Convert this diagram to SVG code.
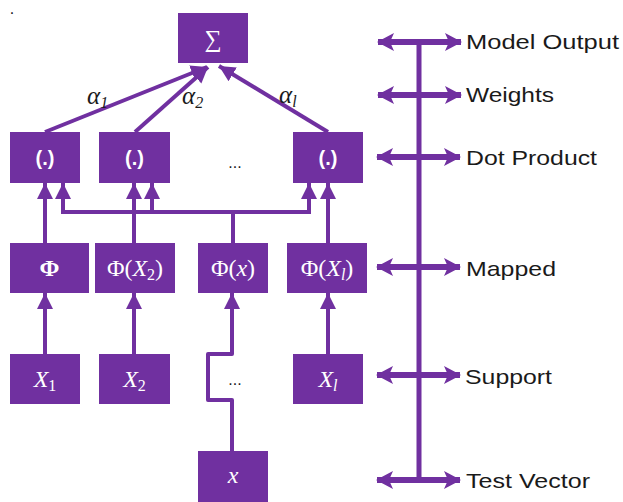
<svg xmlns="http://www.w3.org/2000/svg" width="623" height="502" viewBox="0 0 623 502">
<defs>
<style>
.box{fill:#7030A0;}
.bt{fill:#fff;font-family:"Liberation Serif","DejaVu Serif",serif;font-size:24px;text-anchor:middle;}
.bs{fill:#fff;font-family:"Liberation Sans",sans-serif;font-size:20px;font-weight:bold;text-anchor:middle;}
.it{font-style:italic;}
.ln{stroke:#7030A0;stroke-width:4;fill:none;}
.lb{fill:#1a1a1a;font-family:"Liberation Sans","DejaVu Sans",sans-serif;font-size:21px;}
.al{fill:#1a1a1a;font-family:"Liberation Serif","DejaVu Serif",serif;font-size:25px;font-style:italic;}
.dots{fill:#1a1a1a;font-family:"Liberation Sans",sans-serif;font-size:16px;text-anchor:middle;}
</style>
<marker id="ah" markerUnits="userSpaceOnUse" markerWidth="18" markerHeight="18" refX="16" refY="9" orient="auto-start-reverse" viewBox="0 0 18 18">
<path d="M0,1 L16,9 L0,17 Z" fill="#7030A0"/>
</marker>
<marker id="dh" markerUnits="userSpaceOnUse" markerWidth="18" markerHeight="20" refX="16" refY="10" orient="auto-start-reverse" viewBox="0 0 18 20">
<path d="M0,1 L17,10 L0,19 L4,10 Z" fill="#7030A0"/>
</marker>
</defs>
<rect width="623" height="502" fill="#fff"/>
<text x="12" y="14" class="dots" font-size="10">.</text>

<g id="connectors">
<line class="ln" x1="45" y1="132" x2="207" y2="67" marker-end="url(#ah)"/>
<line class="ln" x1="135" y1="132" x2="208" y2="67" marker-end="url(#ah)"/>
<line class="ln" x1="328" y1="132" x2="219" y2="66" marker-end="url(#ah)"/>
<line class="ln" x1="45" y1="354" x2="45" y2="293" marker-end="url(#ah)"/>
<line class="ln" x1="134" y1="354" x2="134" y2="293" marker-end="url(#ah)"/>
<line class="ln" x1="328" y1="354" x2="328" y2="293" marker-end="url(#ah)"/>
<path class="ln" d="M232,451 V400 H208 V354 H232 V293" marker-end="url(#ah)" stroke-linejoin="round"/>
<line class="ln" x1="45" y1="243" x2="45" y2="183" marker-end="url(#ah)"/>
<line class="ln" x1="134" y1="243" x2="134" y2="183" marker-end="url(#ah)"/>
<line class="ln" x1="328" y1="243" x2="328" y2="183" marker-end="url(#ah)"/>
<path class="ln" d="M233,243 V212"/>
<path class="ln" d="M63,183 V212 H309 V183" marker-start="url(#ah)" marker-end="url(#ah)"/>
<line class="ln" x1="152" y1="212" x2="152" y2="183" marker-end="url(#ah)"/>
<line x1="419" y1="42" x2="419" y2="481" stroke="#7030A0" stroke-width="5"/>
<g stroke="#7030A0" stroke-width="6">
<line x1="378" y1="42" x2="461" y2="42" marker-start="url(#dh)" marker-end="url(#dh)"/>
<line x1="378" y1="95" x2="461" y2="95" marker-start="url(#dh)" marker-end="url(#dh)"/>
<line x1="377" y1="157" x2="460" y2="157" marker-start="url(#dh)" marker-end="url(#dh)"/>
<line x1="377" y1="267" x2="460" y2="267" marker-start="url(#dh)" marker-end="url(#dh)"/>
<line x1="377" y1="375" x2="460" y2="375" marker-start="url(#dh)" marker-end="url(#dh)"/>
<line x1="377" y1="480" x2="460" y2="480" marker-start="url(#dh)" marker-end="url(#dh)"/>
</g>
</g>

<g id="sum"><rect class="box" x="178" y="13" width="70" height="50"/><text class="bt" x="213" y="47" font-size="26">∑</text></g>

<g id="dot1"><rect class="box" x="10" y="132" width="70" height="51"/><text class="bs" x="45" y="165">(.)</text></g>
<g id="dot2"><rect class="box" x="99" y="132" width="71" height="51"/><text class="bs" x="134.5" y="165">(.)</text></g>
<text class="dots" x="235" y="168">...</text>
<g id="dotl"><rect class="box" x="293" y="132" width="70" height="51"/><text class="bs" x="328" y="165">(.)</text></g>

<g id="map1"><rect class="box" x="10" y="243" width="79" height="50"/><text class="bt" x="49.5" y="276" font-weight="bold">Φ</text></g>
<g id="map2"><rect class="box" x="95" y="243" width="80" height="50"/><text class="bt" x="135" y="276">Φ(<tspan class="it">X</tspan><tspan font-size="16" dy="4">2</tspan><tspan dy="-4">)</tspan></text></g>
<g id="mapx"><rect class="box" x="198" y="243" width="70" height="50"/><text class="bt" x="233" y="276">Φ(<tspan class="it">x</tspan>)</text></g>
<g id="mapl"><rect class="box" x="287" y="243" width="80" height="50"/><text class="bt" x="327" y="276">Φ(<tspan class="it">X</tspan><tspan class="it" font-size="16" dy="4">l</tspan><tspan dy="-4">)</tspan></text></g>

<g id="sup1"><rect class="box" x="10" y="354" width="70" height="50"/><text class="bt" x="45" y="387"><tspan class="it">X</tspan><tspan font-size="16" dy="4">1</tspan></text></g>
<g id="sup2"><rect class="box" x="99" y="354" width="71" height="50"/><text class="bt" x="134.5" y="387"><tspan class="it">X</tspan><tspan font-size="16" dy="4">2</tspan></text></g>
<text class="dots" x="235" y="385">...</text>
<g id="supl"><rect class="box" x="293" y="354" width="70" height="50"/><text class="bt" x="328" y="387"><tspan class="it">X</tspan><tspan class="it" font-size="16" dy="4">l</tspan></text></g>

<g id="test"><rect class="box" x="198" y="451" width="70" height="52"/><text class="bt it" x="233" y="483">x</text></g>

<g id="weights">
<text class="al" x="87" y="104">α<tspan font-size="16" dy="4">1</tspan></text>
<text class="al" x="182" y="104">α<tspan font-size="16" dy="4">2</tspan></text>
<text class="al" x="279" y="103">α<tspan font-size="16" dy="4">l</tspan></text>
</g>

<g id="labels">
<text class="lb" x="466" y="49" textLength="153" lengthAdjust="spacingAndGlyphs">Model Output</text>
<text class="lb" x="466" y="102" textLength="88" lengthAdjust="spacingAndGlyphs">Weights</text>
<text class="lb" x="466" y="165" textLength="131" lengthAdjust="spacingAndGlyphs">Dot Product</text>
<text class="lb" x="466" y="276" textLength="90" lengthAdjust="spacingAndGlyphs">Mapped</text>
<text class="lb" x="465" y="384" textLength="87" lengthAdjust="spacingAndGlyphs">Support</text>
<text class="lb" x="466" y="488" textLength="124" lengthAdjust="spacingAndGlyphs">Test Vector</text>
</g>
</svg>
